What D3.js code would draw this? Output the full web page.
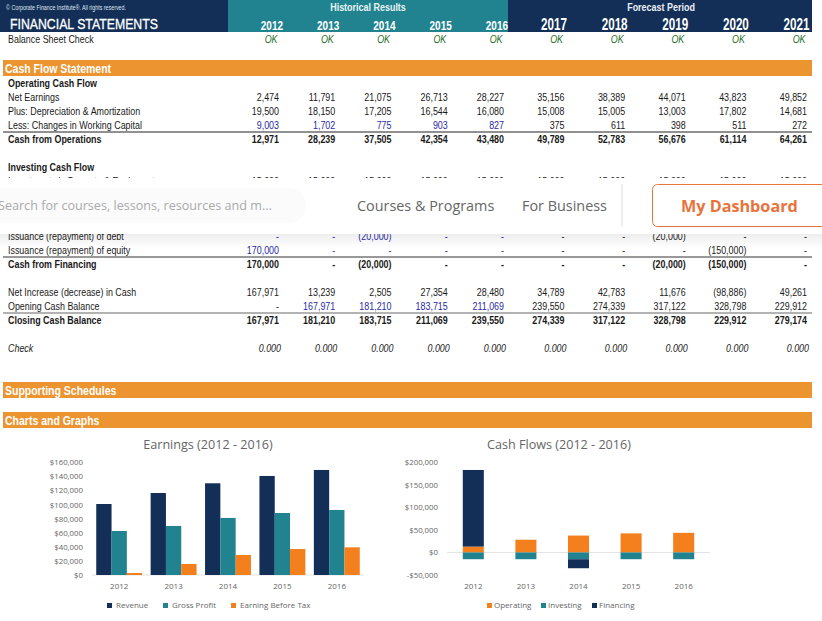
<!DOCTYPE html>
<html>
<head>
<meta charset="utf-8">
<script src="https://cdn.jsdelivr.net/npm/d3@7"></script>
<style>
  html, body { margin: 0; padding: 0; background: #fff; overflow: hidden; }
  svg { display: block; }
  .cell { font-family: "Liberation Sans", sans-serif; font-size: 11px; fill: #1a1a1a; }
  .chart text { font-family: "Open Sans", sans-serif; fill: #666; }
</style>
</head>
<body>
<div id="chart"></div>
<script>
const width = 822;
const height = 621;

// table data
const historicalYears = [2012, 2013, 2014, 2015, 2016];
const forecastYears = [2017, 2018, 2019, 2020, 2021];
const netEarnings = [2474, 11791, 21075, 26713, 28227, 35156, 38389, 44071, 43823, 49852];
const depreciation = [19500, 18150, 17205, 16544, 16080, 15008, 15005, 13003, 17802, 14681];
const workingCapital = [9003, 1702, 775, 903, 827, 375, 611, 398, 511, 272];
const cashOperations = [12971, 28239, 37505, 42354, 43480, 49789, 52783, 56676, 61114, 64261];
const investments = [15000, 15000, 15000, 15000, 15000, 15000, 15000, 15000, 15000, 15000];
const debtIssuance = [0, 0, -20000, 0, 0, 0, 0, -20000, 0, 0];
const equityIssuance = [170000, 0, 0, 0, 0, 0, 0, 0, -150000, 0];
const cashFinancing = [170000, 0, -20000, 0, 0, 0, 0, -20000, -150000, 0];
const netIncrease = [167971, 13239, 2505, 27354, 28480, 34789, 42783, 11676, -98886, 49261];
const openingCash = [0, 167971, 181210, 183715, 211069, 239550, 274339, 317122, 328798, 229912];
const closingCash = [167971, 181210, 183715, 211069, 239550, 274339, 317122, 328798, 229912, 279174];
const checkValues = [0, 0, 0, 0, 0, 0, 0, 0, 0, 0];

// chart data
const chartYears = ["2012", "2013", "2014", "2015", "2016"];
const revenue = [100800, 116400, 130200, 140600, 149100];
const grossProfit = [62500, 69600, 81000, 88000, 92300];
const earningBeforeTax = [2800, 15600, 28400, 36900, 39300];
const operatingFlow = [12971, 28239, 37505, 42354, 43480];
const investingFlow = [-15000, -15000, -15000, -15000, -15000];
const financingFlow = [170000, 0, -20000, 0, 0];
const earningsTicks = [0, 20000, 40000, 60000, 80000, 100000, 120000, 140000, 160000];
const cashTicks = [-50000, 0, 50000, 100000, 150000, 200000];

const navy = "#132f58";
const teal = "#21838f";
const orange = "#f37f1d";
const barOrange = "#ec9430";
const inputBlue = "#2a2aa8";

const svg = d3.select("#chart").append("svg").attr("width", width).attr("height", height);
svg.append("rect").attr("width", width).attr("height", height).attr("fill", "#fff");

const years = historicalYears.concat(forecastYears);
const xHist = d3.scaleLinear().domain([2012, 2016]).range([279, 504]);
const xFore = d3.scaleLinear().domain([2017, 2021]).range([564.5, 807]);
const colX = (year) => (year <= 2016 ? xHist(year) : xFore(year));

const fmtNum = d3.format(",");
function money(v) {
  if (v === 0) return "-";
  return v < 0 ? `(${fmtNum(-v)})` : fmtNum(v);
}

// sheet text is a condensed Arial, so squeeze Liberation Sans sideways
function cellText(x, y, str, opts = {}) {
  return svg
    .append("text")
    .attr("class", "cell")
    .attr("transform", `translate(${x},${y}) scale(${opts.sx || 0.81},1)`)
    .attr("dy", "0.35em")
    .attr("text-anchor", opts.anchor || "start")
    .style("font-weight", opts.bold ? "bold" : "normal")
    .style("font-style", opts.italic ? "italic" : "normal")
    .style("font-size", opts.size || null)
    .style("fill", opts.fill || null)
    .text(str);
}

// header band
svg.append("rect").attr("x", 0).attr("y", 0).attr("width", 228).attr("height", 32).attr("fill", navy);
svg.append("rect").attr("x", 228).attr("y", 0).attr("width", 280).attr("height", 32).attr("fill", teal);
svg.append("rect").attr("x", 508).attr("y", 0).attr("width", 304).attr("height", 32).attr("fill", navy);
cellText(6, 8, "© Corporate Finance Institute®. All rights reserved.", { fill: "#dfe5ee", size: "7px", sx: 0.76 });
cellText(10, 24, "FINANCIAL STATEMENTS", { fill: "#fff", size: "15px", sx: 0.82 })
  .style("stroke", "#fff").style("stroke-width", 0.3);
cellText(368, 7, "Historical Results", { fill: "#e8f3f4", bold: true, anchor: "middle", size: "11.5px", sx: 0.78 });
cellText(661, 7, "Forecast Period", { fill: "#e8edf4", bold: true, anchor: "middle", size: "11.5px", sx: 0.78 });
historicalYears.forEach((y) =>
  cellText(colX(y) + 4, 25, y, { fill: "#fff", bold: true, anchor: "end", size: "13.5px", sx: 0.74 })
);
forecastYears.forEach((y) =>
  cellText(colX(y) + 2.5, 24, y, { fill: "#fff", bold: true, anchor: "end", size: "16px", sx: 0.73 })
);

// section bars
[
  { y: 60, label: "Cash Flow Statement" },
  { y: 382, label: "Supporting Schedules" },
  { y: 412, label: "Charts and Graphs" },
].forEach((s) => {
  svg.append("rect").attr("x", 3).attr("y", s.y).attr("width", 809).attr("height", 16).attr("fill", barOrange);
  cellText(5, s.y + 8.5, s.label, { fill: "#fff", bold: true, size: "12.5px", sx: 0.84 });
});

// table rows
const rows = [
  { y: 83, label: "Operating Cash Flow", bold: true },
  { y: 97, label: "Net Earnings", values: netEarnings },
  { y: 111, label: "Plus: Depreciation & Amortization", values: depreciation },
  { y: 125, label: "Less: Changes in Working Capital", values: workingCapital, blueTo: 2016 },
  { y: 139, label: "Cash from Operations", values: cashOperations, bold: true, rule: "#222" },
  { y: 167, label: "Investing Cash Flow", bold: true },
  { y: 181, label: "Investments in Property & Equipment", values: investments },
  { y: 236, label: "Issuance (repayment) of debt", values: debtIssuance, blueTo: 2016 },
  { y: 250, label: "Issuance (repayment) of equity", values: equityIssuance, blueTo: 2016 },
  { y: 264, label: "Cash from Financing", values: cashFinancing, bold: true, rule: "#333" },
  { y: 292, label: "Net Increase (decrease) in Cash", values: netIncrease },
  { y: 306, label: "Opening Cash Balance", values: openingCash, blueFrom: 2013, blueTo: 2016 },
  { y: 320, label: "Closing Cash Balance", values: closingCash, bold: true, rule: "#666" },
];

cellText(8, 39, "Balance Sheet Check");
years.forEach((y) => cellText(colX(y) - 1.5, 39, "OK", { anchor: "end", italic: true, fill: "#1c6b1c" }));

rows.forEach((row) => {
  cellText(8, row.y, row.label, { bold: row.bold });
  if (row.rule) {
    svg.append("line").attr("x1", 3).attr("x2", 812).attr("y1", row.y - 7).attr("y2", row.y - 7).attr("stroke", row.rule).attr("stroke-width", 1);
  }
  if (!row.values) return;
  row.values.forEach((v, i) => {
    const year = years[i];
    const blue = row.blueTo && year <= row.blueTo && year >= (row.blueFrom || 2012);
    cellText(colX(year), row.y, money(v), { anchor: "end", bold: row.bold, fill: blue ? inputBlue : null });
  });
});

cellText(8, 348, "Check", { italic: true });
checkValues.forEach((v, i) =>
  cellText(colX(years[i]) + 2, 348, d3.format(".3f")(v), { anchor: "end", italic: true })
);

// site navigation sitting over the sheet
const defs = svg.append("defs");
const shadow = defs.append("linearGradient").attr("id", "navShadow").attr("x1", 0).attr("x2", 0).attr("y1", 0).attr("y2", 1);
shadow.append("stop").attr("offset", 0).attr("stop-color", "#000").attr("stop-opacity", 0.07);
shadow.append("stop").attr("offset", 1).attr("stop-color", "#000").attr("stop-opacity", 0);
svg.append("rect").attr("x", 0).attr("y", 234).attr("width", width).attr("height", 14).attr("fill", "url(#navShadow)");
svg.append("rect").attr("x", 0).attr("y", 178).attr("width", width).attr("height", 56).attr("fill", "#fff");
svg.append("rect").attr("x", -20).attr("y", 188).attr("width", 326).attr("height", 35).attr("rx", 17).attr("fill", "#fbfbfc");

const nav = svg.append("g").attr("class", "chart");
nav.append("text").attr("x", -2).attr("y", 206).attr("dy", "0.35em").style("font-size", "12.6px").style("fill", "#aaa")
  .text("Search for courses, lessons, resources and m...");
nav.append("text").attr("x", 357).attr("y", 206).attr("dy", "0.35em").style("font-size", "14.4px").style("fill", "#666").text("Courses & Programs");
nav.append("text").attr("x", 522).attr("y", 206).attr("dy", "0.35em").style("font-size", "14.4px").style("fill", "#666").text("For Business");
nav.append("line").attr("x1", 622).attr("x2", 622).attr("y1", 184).attr("y2", 227).attr("stroke", "#ddd");
nav.append("rect").attr("x", 652.5).attr("y", 184.5).attr("width", 190).attr("height", 42).attr("rx", 5).attr("fill", "#fff").attr("stroke", "#e8743b");
nav.append("text").attr("x", 681).attr("y", 206).attr("dy", "0.35em").style("font-size", "16.2px").style("font-weight", "bold").style("fill", "#e8743b").text("My Dashboard");

// shared axis drawing for both charts
function drawAxes(g, x, y, ticks, baseY, titleText, titleX) {
  const usd = (d) => (d < 0 ? "-$" : "$") + fmtNum(Math.abs(d));
  const left = g.append("g")
    .attr("transform", `translate(${x.range()[0]},0)`)
    .call(d3.axisLeft(y).tickValues(ticks).tickFormat(usd).tickSize(0).tickPadding(9));
  left.select(".domain").remove();
  left.selectAll("text").style("font-size", "7.8px").style("font-family", "Open Sans");

  g.append("line").attr("x1", x.range()[0]).attr("x2", x.range()[1]).attr("y1", y(0)).attr("y2", y(0)).attr("stroke", "#e3e3e3");

  const bottom = g.append("g")
    .attr("transform", `translate(0,${baseY})`)
    .call(d3.axisBottom(x).tickSize(0).tickPadding(0));
  bottom.select(".domain").remove();
  bottom.selectAll("text").style("font-size", "8px").style("font-family", "Open Sans");

  g.append("text").attr("x", titleX).attr("y", 444.5).attr("dy", "0.35em").attr("text-anchor", "middle")
    .style("font-size", "12.6px").text(titleText);
}

function drawLegend(g, items) {
  items.forEach((d) => {
    g.append("rect").attr("x", d.x).attr("y", 603).attr("width", 5).attr("height", 5).attr("fill", d.color);
    g.append("text").attr("x", d.x + d.gap).attr("y", 605).attr("dy", "0.35em").style("font-size", "8px").text(d.name);
  });
}

// Earnings chart
const earnings = svg.append("g").attr("class", "chart");
const x0 = d3.scaleBand().domain(chartYears).range([92, 364]).paddingInner(0.156).paddingOuter(0.078);
const x1 = d3.scaleBand().domain([0, 1, 2]).range([0, x0.bandwidth()]);
const yEarn = d3.scaleLinear().domain([0, 160000]).range([575, 462.3]);
drawAxes(earnings, x0, yEarn, earningsTicks, 583.5, "Earnings (2012 - 2016)", 208);

[
  { values: revenue, color: navy },
  { values: grossProfit, color: teal },
  { values: earningBeforeTax, color: orange },
].forEach((s, k) => {
  earnings.selectAll(null)
    .data(s.values)
    .enter()
    .append("rect")
    .attr("x", (d, i) => x0(chartYears[i]) + x1(k))
    .attr("y", (d) => yEarn(d))
    .attr("width", x1.bandwidth())
    .attr("height", (d) => yEarn(0) - yEarn(d))
    .attr("fill", s.color);
});
drawLegend(earnings, [
  { name: "Revenue", color: navy, x: 107, gap: 9 },
  { name: "Gross Profit", color: teal, x: 163, gap: 9 },
  { name: "Earning Before Tax", color: orange, x: 231, gap: 9 },
]);

// Cash flow chart, stacked with negatives below zero
const flows = svg.append("g").attr("class", "chart");
const flowRows = chartYears.map((year, i) => ({
  year,
  Operating: operatingFlow[i],
  Investing: investingFlow[i],
  Financing: financingFlow[i],
}));
const flowKeys = ["Operating", "Investing", "Financing"];
const flowColor = d3.scaleOrdinal().domain(flowKeys).range([orange, teal, navy]);
const series = d3.stack().keys(flowKeys).offset(d3.stackOffsetDiverging)(flowRows);
const xFlow = d3.scaleBand().domain(chartYears).range([447, 710]).paddingInner(0.6).paddingOuter(0.3);
const yFlow = d3.scaleLinear().domain([-50000, 200000]).range([575, 462.3]);
drawAxes(flows, xFlow, yFlow, cashTicks, 583.5, "Cash Flows (2012 - 2016)", 559);

flows.selectAll(".flow")
  .data(series)
  .enter()
  .append("g")
  .attr("class", "flow")
  .attr("fill", (d) => flowColor(d.key))
  .selectAll("rect")
  .data((d) => d)
  .enter()
  .append("rect")
  .attr("x", (d) => xFlow(d.data.year))
  .attr("y", (d) => yFlow(d[1]))
  .attr("width", xFlow.bandwidth())
  .attr("height", (d) => yFlow(d[0]) - yFlow(d[1]));
drawLegend(flows, [
  { name: "Operating", color: orange, x: 487, gap: 7 },
  { name: "Investing", color: teal, x: 541, gap: 7 },
  { name: "Financing", color: navy, x: 592, gap: 7 },
]);
</script>
</body>
</html>
